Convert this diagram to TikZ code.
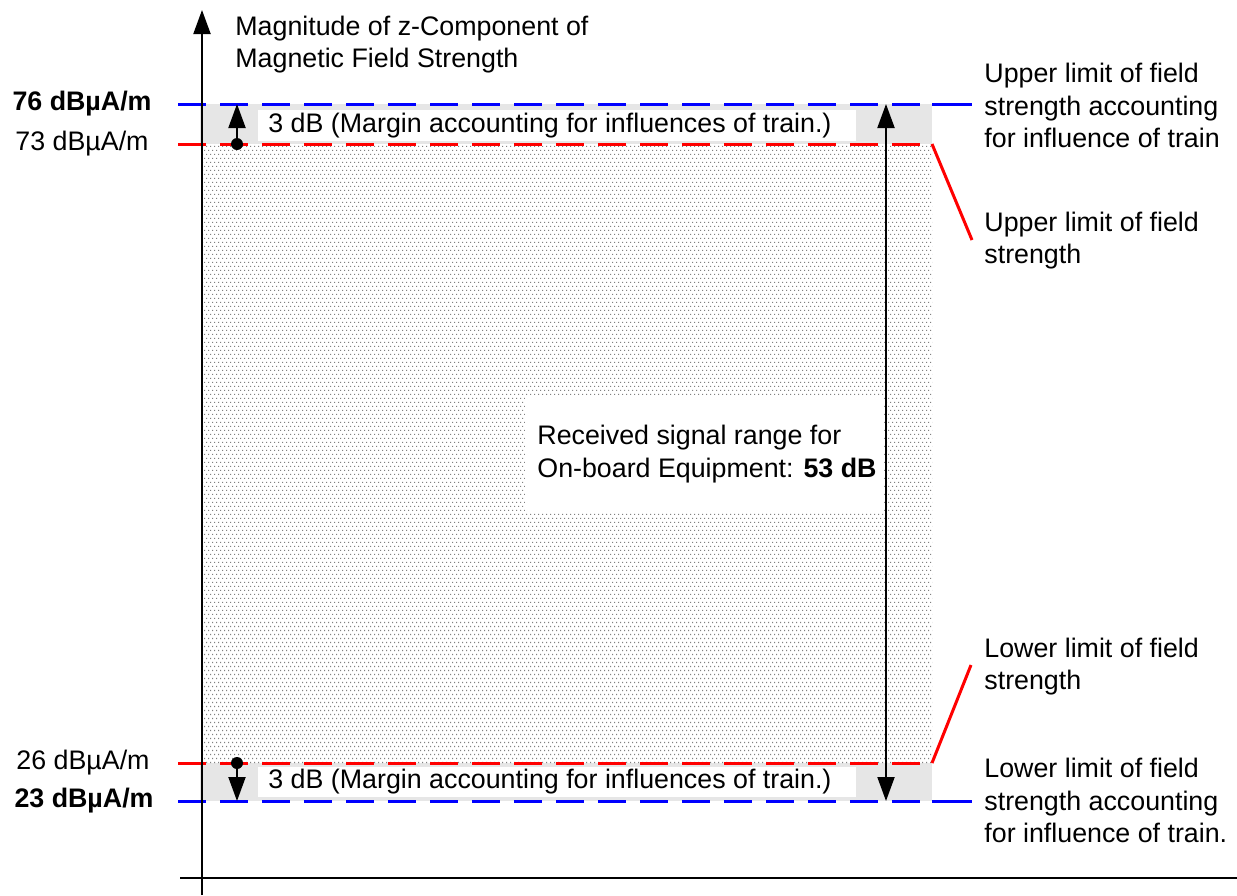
\documentclass[tikz,border=0pt]{standalone}
\usepackage{fontspec}
\setmainfont{Liberation Sans}
\usetikzlibrary{arrows.meta,patterns}

\pgfdeclarepatternformonly{finedots}{\pgfqpoint{-0.1pt}{-0.1pt}}{\pgfqpoint{2.1pt}{4.1pt}}{\pgfqpoint{2pt}{4pt}}{%
	\pgfpathrectangle{\pgfqpoint{0pt}{0pt}}{\pgfqpoint{0.55pt}{0.55pt}}%
	\pgfpathrectangle{\pgfqpoint{1pt}{2pt}}{\pgfqpoint{0.55pt}{0.55pt}}%
	\pgfusepath{fill}}

\definecolor{bandgray}{RGB}{230,230,230}
\definecolor{limblue}{RGB}{0,0,255}
\definecolor{limred}{RGB}{255,0,0}

\tikzset{
	lbl/.style={inner sep=0mm, align=left, font=\fontsize{13.4pt}{16.3pt}\selectfont},
	limdash/.style={line width=1.5pt, dash pattern=on 14pt off 7pt},
	limsolid/.style={line width=1.5pt},
	tip/.style={-{Triangle[length=12pt,width=8.5pt]}}
}

\begin{document}
\begin{tikzpicture}[x=0.5pt,y=-0.5pt]
	\useasboundingbox (0,0) rectangle (1237,895);

	% bands and signal range
	\fill[bandgray] (200,104) rectangle (932,144);
	\fill[bandgray] (200,763) rectangle (932,801);
	\fill[pattern=finedots, pattern color=gray] (202,144) rectangle (932,763);
	\fill[white] (258,110) rectangle (856,141);
	\fill[white] (258,767) rectangle (856,797);
	\fill[white] (525,396) rectangle (884,512);

	\node[lbl, anchor=west] at (268,125.5) (mtop) {3 dB (Margin accounting for influences of train.)};
	\node[lbl, anchor=west] at (268,782) (mbot) {3 dB (Margin accounting for influences of train.)};
	\node[lbl, anchor=west] at (537,454) (range) {Received signal range for\\On-board Equipment: \textbf{53 dB}};

	% limit lines
	\coordinate (bu0) at (178,104); \coordinate (bu1) at (932,104); \coordinate (bu2) at (972,104);
	\coordinate (ru0) at (178,144); \coordinate (ru1) at (932,144); \coordinate (ru2) at (972,240);
	\coordinate (rl0) at (178,763); \coordinate (rl1) at (932,763); \coordinate (rl2) at (971,665);
	\coordinate (bl0) at (178,801); \coordinate (bl1) at (932,801); \coordinate (bl2) at (972,801);

	\draw[limdash, limblue] (bu0) -- (bu1);
	\draw[limsolid, limblue] (bu1) -- (bu2);
	\draw[limdash, limred] (ru0) -- (ru1);
	\draw[limsolid, limred] (ru1) -- (ru2);
	\draw[limdash, limred] (rl0) -- (rl1);
	\draw[limsolid, limred] (rl1) -- (rl2);
	\draw[limdash, limblue] (bl0) -- (bl1);
	\draw[limsolid, limblue] (bl1) -- (bl2);

	% axes
	\coordinate (ybot) at (202,895); \coordinate (ytop) at (202,10);
	\coordinate (xl) at (180,878); \coordinate (xr) at (1237,878);
	\draw[line width=1pt, tip] (ybot) -- (ytop);
	\draw[line width=1pt] (xl) -- (xr);

	% margin arrows
	\node[circle, fill, inner sep=0mm, minimum size=6pt] at (237,144) (dtop) {};
	\coordinate (atop) at (237,104);
	\draw[line width=1pt, tip] (dtop.center) -- (atop);
	\node[circle, fill, inner sep=0mm, minimum size=6pt] at (237,763) (dbot) {};
	\coordinate (abot) at (237,801);
	\draw[line width=1pt, tip] (dbot.center) -- (abot);

	\coordinate (rtop) at (886,104); \coordinate (rbot) at (886,801);
	\draw[line width=1pt, {Triangle[length=12pt,width=8.5pt]}-{Triangle[length=12pt,width=8.5pt]}] (rtop) -- (rbot);

	% texts
	\node[lbl, anchor=west] at (235,44.5) (ylabel) {Magnitude of z-Component of\\Magnetic Field Strength};

	\node[lbl, anchor=east] at (152,104) (v76) {\textbf{76 dBµA/m}};
	\node[lbl, anchor=east] at (149,144) (v73) {73 dBµA/m};
	\node[lbl, anchor=east] at (150,763) (v26) {26 dBµA/m};
	\node[lbl, anchor=east] at (154,801) (v23) {\textbf{23 dBµA/m}};

	\node[lbl, anchor=west] at (984,105.5) (upinf) {Upper limit of field\\strength accounting\\for influence of train};
	\node[lbl, anchor=west] at (984,240.5) (up) {Upper limit of field\\strength};
	\node[lbl, anchor=west] at (984,666.5) (low) {Lower limit of field\\strength};
	\node[lbl, anchor=west] at (984,800.5) (lowinf) {Lower limit of field\\strength accounting\\for influence of train.};
\end{tikzpicture}
\end{document}
